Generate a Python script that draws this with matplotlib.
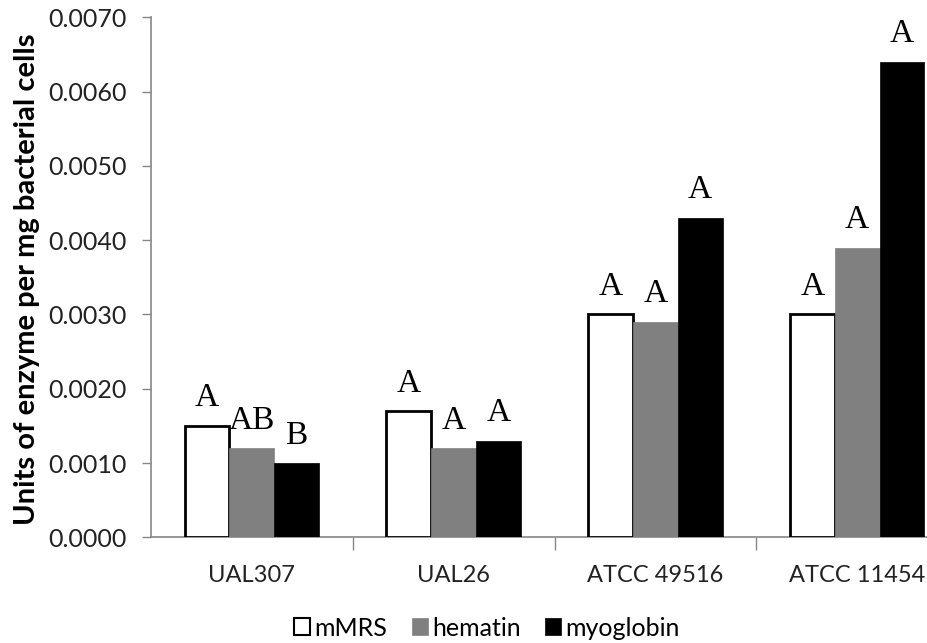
import numpy as np
import matplotlib.pyplot as plt
from matplotlib.patches import Rectangle

# Enzyme activity per strain and growth medium
strains = ['UAL307', 'UAL26', 'ATCC 49516', 'ATCC 11454']
media = ['mMRS', 'hematin', 'myoglobin']
mmrs = [0.0015, 0.0017, 0.0030, 0.0030]
hematin = [0.0012, 0.0012, 0.0029, 0.0039]
myoglobin = [0.0010, 0.0013, 0.0043, 0.0064]
letters_mmrs = ['A', 'A', 'A', 'A']
letters_hematin = ['AB', 'A', 'A', 'A']
letters_myoglobin = ['B', 'A', 'A', 'A']

values = [mmrs, hematin, myoglobin]
letters = [letters_mmrs, letters_hematin, letters_myoglobin]
faces = ['white', '#808080', 'black']
edges = ['black', '#808080', 'black']
lws = [2.0, 0.5, 0.5]

W, H = 927, 643
fig = plt.figure(figsize=(W / 100, H / 100), dpi=100)
# plot area runs past the right edge of the figure
x0, x1 = 151, 958
y0, y1 = 537.3, 17.3
ax = fig.add_axes([x0 / W, 1 - y0 / H, (x1 - x0) / W, (y0 - y1) / H])

axis_grey = '#868686'
sans = ['Lato', 'DejaVu Sans']

n = len(strains)
x = np.arange(n)
bw = 0.222
for k in range(3):
    pos = x + (k - 1) * bw
    ax.bar(pos, values[k], width=bw, color=faces[k], edgecolor=edges[k],
           linewidth=lws[k], zorder=3)
    for xi, v, lab in zip(pos, values[k], letters[k]):
        ax.annotate(lab, (xi, v), xytext=(0, 9), textcoords='offset points',
                    ha='center', va='bottom', fontsize=24,
                    family='Liberation Serif', color='black')

ax.set_xlim(-0.5, n - 0.5)
ax.set_ylim(0, 0.0070)
ax.set_yticks(np.arange(0, 0.00701, 0.0010))
ax.set_yticklabels(['%.4f' % t for t in np.arange(0, 0.00701, 0.0010)],
                   family=sans, fontsize=18, color='#222222')
ax.set_xticks(x)
ax.set_xticklabels(strains, family=sans, fontsize=17, color='#222222')
ax.set_xticks(np.arange(0.5, n - 0.5, 1.0), minor=True)
ax.tick_params(axis='x', which='major', length=0, pad=20)
ax.tick_params(axis='x', which='minor', length=9, color=axis_grey, width=1)
ax.tick_params(axis='y', length=6.5, color=axis_grey, width=1, pad=11)

for side in ['top', 'right']:
    ax.spines[side].set_visible(False)
for side in ['left', 'bottom']:
    ax.spines[side].set_color(axis_grey)
    ax.spines[side].set_linewidth(1.2)

ax.set_ylabel('Units of enzyme per mg bacterial cells', family=sans,
              fontweight='bold', fontsize=21, color='black')
ax.yaxis.set_label_coords(40 / W, 1 - 279 / H, transform=fig.transFigure)

# legend along the bottom
handles = [Rectangle((0, 0), 1, 1, facecolor=faces[k], edgecolor=edges[k],
                     linewidth=1.5 if k == 0 else 0.5) for k in range(3)]
fig.legend(handles, media, loc='center', bbox_to_anchor=(487 / W, 1 - 628 / H),
           ncol=3, frameon=False, handlelength=0.64, handleheight=0.64,
           handletextpad=0.15, columnspacing=1.0,
           prop={'family': sans, 'size': 18})

fig.savefig('out.png', dpi=100)
